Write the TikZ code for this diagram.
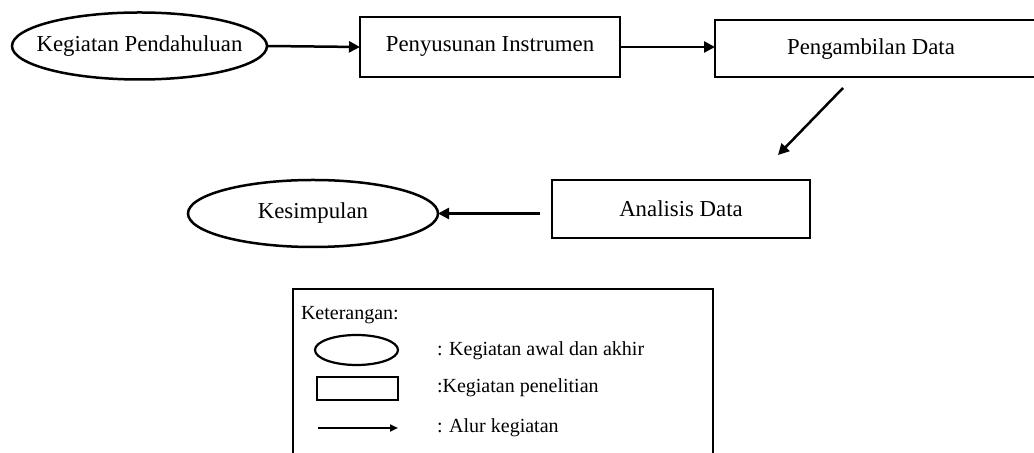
\documentclass[tikz,border=0pt]{standalone}
\usepackage{fontspec}
\setmainfont{Liberation Serif}
\usetikzlibrary{shapes.geometric,arrows.meta}
\begin{document}
\begin{tikzpicture}[x=0.5pt,y=-0.5pt,
  every node/.style={inner sep=0pt,outer sep=0pt},
  mainfont/.style={font=\fontsize{11.4}{13}\selectfont},
  legfont/.style={font=\fontsize{10}{12}\selectfont},
  oval/.style={draw,ellipse,line width=1.25pt,mainfont},
  box/.style={draw,rectangle,line width=1.25pt,mainfont},
  flow/.style={line width=1.25pt,-{Triangle[length=5.5pt,width=5.5pt]}},
  legline/.style={line width=1pt}]
\clip (0,0) rectangle (1034,453);
\fill[white] (0,0) rectangle (1034,453);
% main nodes
\node[oval,minimum width=127.5pt,minimum height=33.5pt] (k1) at (139.5,46) {\makebox[0pt]{Kegiatan Pendahuluan}};
\node[box,minimum width=130pt,minimum height=30pt] (b2) at (490,47) {Penyusunan Instrumen};
\node[box,minimum width=162.5pt,minimum height=28.5pt] (b3) at (877.5,48.5) {};
\node[mainfont] (t3) at (871,49) {Pengambilan Data};
\node[box,minimum width=129pt,minimum height=29pt] (b4) at (681,209) {Analisis Data};
\node[oval,minimum width=125pt,minimum height=33.5pt] (k5) at (313,213.5) {\makebox[0pt]{Kesimpulan}};
\coordinate (d1) at (843,88);
\coordinate (d2) at (778,155);
% connectors
\draw[flow] (k1.east) -- (b2.west);
\draw[flow] (b2.east) -- (b2.east -| b3.west);
\draw[flow] (d1) -- (d2);
\draw[flow,shorten <=6pt] (b4.west |- k5.east) -- (k5.east);
% legend
\coordinate (lg1) at (293,470);
\coordinate (lg2) at (293,289);
\coordinate (lg3) at (713,289);
\coordinate (lg4) at (713,470);
\draw[line width=1.2pt] (lg1) -- (lg2) -- (lg3) -- (lg4);
\node[legfont,anchor=west] (ket) at (301,315) {Keterangan:};
\node[draw,ellipse,line width=1.1pt,minimum width=41.5pt,minimum height=15pt] (le) at (356.5,350) {};
\node[legfont,anchor=west] (lt1) at (437,351) {: Kegiatan awal dan akhir};
\node[draw,rectangle,line width=1.1pt,minimum width=40.5pt,minimum height=11.5pt] (lr) at (357.5,388.5) {};
\node[legfont,anchor=west] (lt2) at (437,388) {:Kegiatan penelitian};
\coordinate (la1) at (318,428);
\coordinate (la2) at (398,428);
\draw[legline,-{Triangle[length=4pt,width=3.5pt]}] (la1) -- (la2);
\node[legfont,anchor=west] (lt3) at (437,428) {: Alur kegiatan};
\end{tikzpicture}
\end{document}
